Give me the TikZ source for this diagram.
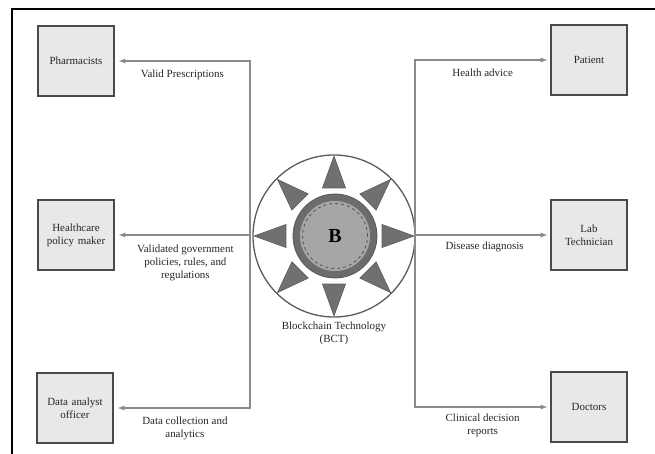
\documentclass[tikz,border=0pt]{standalone}
\usepackage{fontspec}
\setmainfont{Liberation Serif}
\usetikzlibrary{arrows,positioning,calc}

\definecolor{textGray}{HTML}{262626}
\definecolor{boxEdge}{HTML}{4A4A4A}
\definecolor{boxFill}{HTML}{E8E8E8}
\definecolor{arrowGray}{HTML}{8A8A8A}
\definecolor{wheelEdge}{HTML}{5A5A5A}
\definecolor{spikeGray}{HTML}{707070}
\definecolor{ringGray}{HTML}{6C6C6C}
\definecolor{coreGray}{HTML}{A6A6A6}

\begin{document}
\begin{tikzpicture}[x=1bp, y=-1bp,
        every node/.style={align=center, text=textGray,
                font=\fontsize{11}{13}\selectfont},
        actorBox/.style={
                draw=boxEdge, fill=boxFill, line width=1.5bp,
                minimum width=76bp, minimum height=70bp,
                inner sep=1pt, text width=70bp
            },
        flowArrow/.style={draw=arrowGray, line width=1.3bp, -latex},
        flowLabel/.style={inner sep=1pt}
    ]
    \useasboundingbox (0,0) rectangle (655,454);

    % frame
    \draw[line width=1.6bp] (655,9) -- (12,9) -- (12,454);

    % left side
    \node[actorBox] (pharm) at (76,61) {Pharmacists};
    \node[actorBox] (policy) at (76,235) {Healthcare\\policy maker};
    \node[actorBox] (analyst) at (75,408) {Data analyst\\officer};

    % right side
    \node[actorBox] (patient) at (589,60) {Patient};
    \node[actorBox] (labTech) at (589,235) {Lab\\Technician};
    \node[actorBox] (doctors) at (589,407) {Doctors};

    % blockchain wheel
    \node[circle, draw=wheelEdge, line width=1.3bp, minimum size=162bp,
        inner sep=0pt] (bct) at (334,236) {};
    \foreach \a in {0,45,...,315}{
            \filldraw[fill=spikeGray, draw=wheelEdge, line width=0.6bp]
            ($(bct.center)+(\a:80bp)$) -- ($(bct.center)+(\a+13.5:49.4bp)$)
            -- ($(bct.center)+(\a-13.5:49.4bp)$) -- cycle;
        }
    \node[circle, fill=ringGray, draw=wheelEdge, line width=0.8bp,
        minimum size=84bp, inner sep=0pt] (ring) at (335,236) {};
    \node[circle, fill=coreGray, minimum size=70bp, inner sep=0pt] (core) at (ring) {};
    \draw[wheelEdge, dashed, line width=0.9bp] (core.center) circle[radius=32.5bp];
    \node[text=black, font=\fontsize{20}{20}\bfseries\selectfont] (bLetter) at (core) {B};
    \node[below=1bp of bct] (bctLabel) {Blockchain Technology\\(BCT)};

    % connectors
    \coordinate (leftJoin) at (250,235);
    \coordinate (rightJoin) at (415,235);

    \draw[flowArrow, shorten >=4bp] (leftJoin) |- node[flowLabel, below=7bp, pos=0.75] {Valid Prescriptions} (pharm);
    \draw[flowArrow, shorten >=4bp] (leftJoin) -- node[flowLabel, below=8bp, xshift=3bp] {Validated government\\policies, rules, and\\regulations} (policy);
    \draw[flowArrow, shorten >=4bp] (leftJoin) |- node[flowLabel, below=7bp, pos=0.75, xshift=3bp] {Data collection and\\analytics} (analyst);

    \draw[flowArrow, shorten >=3bp] (rightJoin) |- node[flowLabel, below=7bp, pos=0.75] {Health advice} (patient);
    \draw[flowArrow, shorten >=3bp] (rightJoin) -- node[flowLabel, below=5bp, xshift=2bp] {Disease diagnosis} (labTech);
    \draw[flowArrow, shorten >=3bp] (rightJoin) |- node[flowLabel, below=5bp, pos=0.75] {Clinical decision\\reports} (doctors);
\end{tikzpicture}
\end{document}
